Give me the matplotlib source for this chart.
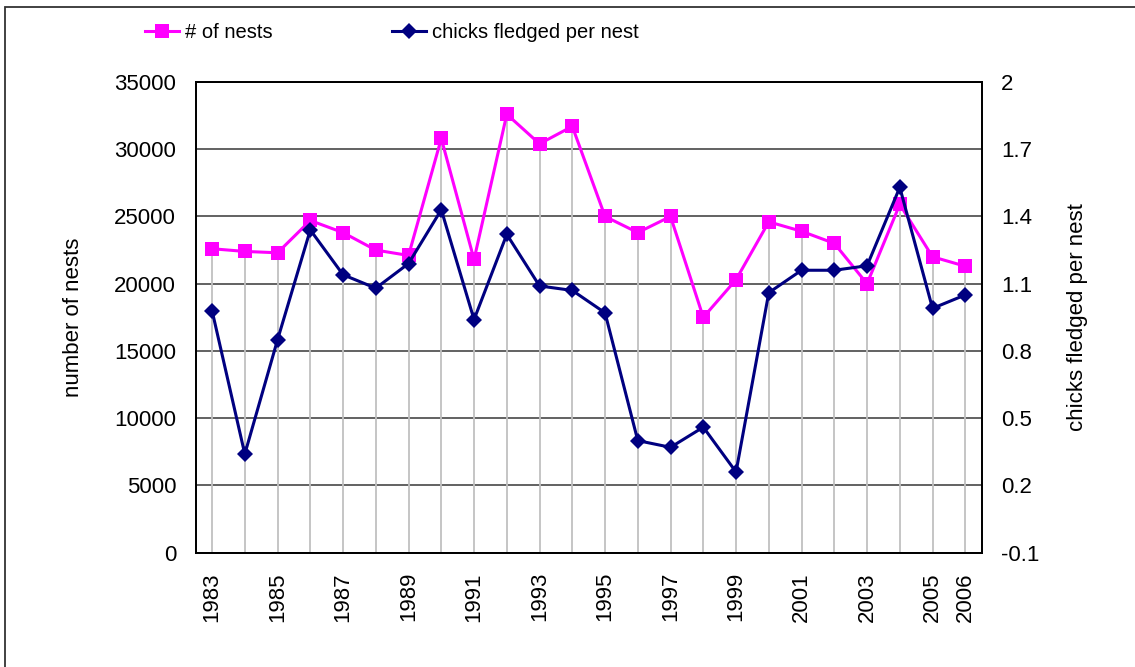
import matplotlib
matplotlib.use("Agg")
import matplotlib.pyplot as plt
from matplotlib.patches import Rectangle
import numpy as np

# Colors used in the plot
PINK = '#ff00ff'
NAVY = '#000080'
GRID = '#555555'
DROP = '#c0c0c0'

# Data
years = list(range(1983, 2007))
nests = [22600, 22400, 22300, 24700, 23800, 22500, 22100, 30800, 21800, 32600,
         30400, 31700, 25000, 23800, 25000, 17500, 20300, 24600, 23900, 23000,
         20000, 25900, 22000, 21300]
chicks = [0.98, 0.34, 0.85, 1.34, 1.14, 1.08, 1.19, 1.43, 0.94, 1.32,
          1.09, 1.07, 0.97, 0.40, 0.37, 0.46, 0.26, 1.06, 1.16, 1.16,
          1.18, 1.53, 0.99, 1.05]
tick_years = [1983, 1985, 1987, 1989, 1991, 1993, 1995, 1997, 1999,
              2001, 2003, 2005, 2006]
left_ticks = np.arange(0, 35001, 5000)
right_ticks = [-0.1, 0.2, 0.5, 0.8, 1.1, 1.4, 1.7, 2.0]
right_labels = ['-0.1', '0.2', '0.5', '0.8', '1.1', '1.4', '1.7', '2']

plt.rcParams['font.family'] = ['Liberation Sans', 'DejaVu Sans']
font_size = 16

fig = plt.figure(figsize=(11.35, 6.67), dpi=100)
ax1 = fig.add_axes([0.1724, 0.1714, 0.6925, 0.7057])
ax2 = ax1.twinx()

x = np.arange(len(years))

# Drop lines from the nest series to the axis
ax1.vlines(x, 0, nests, color=DROP, linewidth=1.3, zorder=1)
ax1.set_axisbelow(True)
ax1.yaxis.grid(True, color=GRID, linewidth=1.3)

l1, = ax1.plot(x, nests, color=PINK, linewidth=2.2, marker='s', markersize=10,
               markeredgewidth=0, zorder=3, label='# of nests')
l2, = ax2.plot(x, chicks, color=NAVY, linewidth=2.2, marker='D', markersize=8,
               markeredgewidth=0, zorder=3, label='chicks fledged per nest')

ax1.set_xlim(-0.5, len(years) - 0.5)
ax1.set_ylim(0, 35000)
ax2.set_ylim(-0.1, 2.0)

ax1.set_yticks(left_ticks)
ax1.set_yticklabels([str(v) for v in left_ticks], fontsize=font_size)
ax2.set_yticks(right_ticks)
ax2.set_yticklabels(right_labels, fontsize=font_size)

ax1.set_xticks([years.index(y) for y in tick_years])
ax1.set_xticklabels([str(y) for y in tick_years], rotation=90, fontsize=font_size)

ax1.tick_params(axis='both', length=0, pad=14)
ax2.tick_params(axis='y', length=0, pad=14)

ax1.set_ylabel('number of nests', fontsize=font_size, labelpad=22)
ax2.set_ylabel('chicks fledged per nest', fontsize=font_size, labelpad=20)

for ax in (ax1, ax2):
    for sp in ax.spines.values():
        sp.set_linewidth(1.3)
        sp.set_color('black')

fig.legend(handles=[l1, l2], loc='center left',
           bbox_to_anchor=(145 / 1135, 1 - 33 / 667), ncol=2, frameon=False,
           fontsize=14.5, handlelength=1.7, handletextpad=0.3, columnspacing=5.9,
           borderpad=0, borderaxespad=0)

# Chart area border (cropped at right and bottom like the original)
fig.add_artist(Rectangle((5 / 1135, -0.1), 1.2, 1.1 - 7 / 667,
                         transform=fig.transFigure, fill=False,
                         edgecolor='#333333', linewidth=1.3, clip_on=False))

plt.savefig('out.png', dpi=100)
